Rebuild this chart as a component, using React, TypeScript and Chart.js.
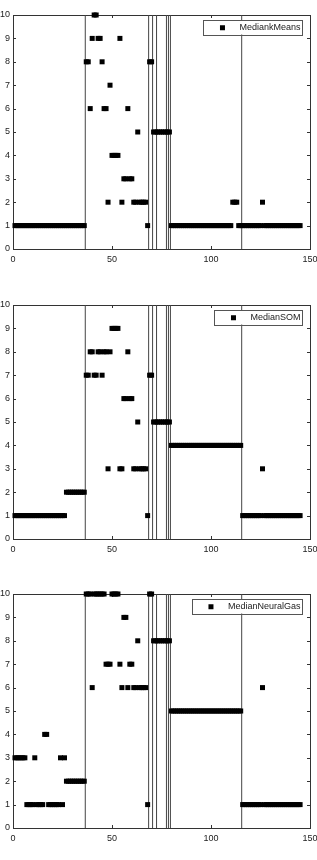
import React, { useEffect, useRef } from 'react';
import { Chart, registerables } from 'chart.js';

Chart.register(...registerables);

// Cluster label of each sample (sample index = position + 1)
const kMeansLabels = [
  1, 1, 1, 1, 1, 1, 1, 1, 1, 1,
  1, 1, 1, 1, 1, 1, 1, 1, 1, 1,
  1, 1, 1, 1, 1, 1, 1, 1, 1, 1,
  1, 1, 1, 1, 1, 1, 8, 8, 6, 9,
  10, 10, 9, 9, 8, 6, 6, 2, 7, 4,
  4, 4, 4, 9, 2, 3, 3, 6, 3, 3,
  2, 2, 5, 2, 2, 2, 2, 1, 8, 8,
  5, 5, 5, 5, 5, 5, 5, 5, 5, 1,
  1, 1, 1, 1, 1, 1, 1, 1, 1, 1,
  1, 1, 1, 1, 1, 1, 1, 1, 1, 1,
  1, 1, 1, 1, 1, 1, 1, 1, 1, 1,
  2, 2, 2, 1, 1, 1, 1, 1, 1, 1,
  1, 1, 1, 1, 1, 2, 1, 1, 1, 1,
  1, 1, 1, 1, 1, 1, 1, 1, 1, 1,
  1, 1, 1, 1, 1,
];

const somLabels = [
  1, 1, 1, 1, 1, 1, 1, 1, 1, 1,
  1, 1, 1, 1, 1, 1, 1, 1, 1, 1,
  1, 1, 1, 1, 1, 1, 2, 2, 2, 2,
  2, 2, 2, 2, 2, 2, 7, 7, 8, 8,
  7, 7, 8, 8, 7, 8, 8, 3, 8, 9,
  9, 9, 9, 3, 3, 6, 6, 8, 6, 6,
  3, 3, 5, 3, 3, 3, 3, 1, 7, 7,
  5, 5, 5, 5, 5, 5, 5, 5, 5, 4,
  4, 4, 4, 4, 4, 4, 4, 4, 4, 4,
  4, 4, 4, 4, 4, 4, 4, 4, 4, 4,
  4, 4, 4, 4, 4, 4, 4, 4, 4, 4,
  4, 4, 4, 4, 4, 1, 1, 1, 1, 1,
  1, 1, 1, 1, 1, 3, 1, 1, 1, 1,
  1, 1, 1, 1, 1, 1, 1, 1, 1, 1,
  1, 1, 1, 1, 1,
];

const neuralGasLabels = [
  3, 3, 3, 3, 3, 3, 1, 1, 1, 1,
  3, 1, 1, 1, 1, 4, 4, 1, 1, 1,
  1, 1, 1, 3, 1, 3, 2, 2, 2, 2,
  2, 2, 2, 2, 2, 2, 10, 10, 10, 6,
  10, 10, 10, 10, 10, 10, 7, 7, 7, 10,
  10, 10, 10, 7, 6, 9, 9, 6, 7, 7,
  6, 6, 8, 6, 6, 6, 6, 1, 10, 10,
  8, 8, 8, 8, 8, 8, 8, 8, 8, 5,
  5, 5, 5, 5, 5, 5, 5, 5, 5, 5,
  5, 5, 5, 5, 5, 5, 5, 5, 5, 5,
  5, 5, 5, 5, 5, 5, 5, 5, 5, 5,
  5, 5, 5, 5, 5, 1, 1, 1, 1, 1,
  1, 1, 1, 1, 1, 6, 1, 1, 1, 1,
  1, 1, 1, 1, 1, 1, 1, 1, 1, 1,
  1, 1, 1, 1, 1,
];

const seriesNames = ['MediankMeans', 'MedianSOM', 'MedianNeuralGas'];
const seriesValues = [kMeansLabels, somLabels, neuralGasLabels];

// class boundaries (vertical lines)
const boundaries = [36.5, 68.5, 70.5, 72.5, 77.5, 78.5, 79.5, 115.5];

const xTicks = [0, 50, 100, 150];
const yTicks = [0, 1, 2, 3, 4, 5, 6, 7, 8, 9, 10];

const FONT_FAMILY = '"Liberation Sans", Arial, Helvetica, sans-serif';
const TEXT_COLOR = '#222';
const FRAME_COLOR = '#333';

const framePlugin = {
  id: 'frameAndTicks',
  beforeDatasetsDraw(chart: any) {
    const { ctx, chartArea: a, scales } = chart;
    const xs = scales.x;
    const ys = scales.y;
    ctx.save();
    ctx.strokeStyle = FRAME_COLOR;
    ctx.lineWidth = 1;
    ctx.strokeRect(a.left + 0.5, a.top + 0.5, a.right - a.left, a.bottom - a.top);
    ctx.beginPath();
    const tl = 3;
    xTicks.forEach((t) => {
      const px = Math.round(xs.getPixelForValue(t)) + 0.5;
      ctx.moveTo(px, a.bottom);
      ctx.lineTo(px, a.bottom - tl);
      ctx.moveTo(px, a.top);
      ctx.lineTo(px, a.top + tl);
    });
    yTicks.forEach((t) => {
      const py = Math.round(ys.getPixelForValue(t)) + 0.5;
      ctx.moveTo(a.left, py);
      ctx.lineTo(a.left + tl, py);
      ctx.moveTo(a.right, py);
      ctx.lineTo(a.right - tl, py);
    });
    ctx.stroke();
    ctx.restore();
  },
  afterDraw(chart: any) {
    const { ctx, chartArea: a } = chart;
    const label = chart.data.datasets[0].label as string;
    ctx.save();
    ctx.font = `9px ${FONT_FAMILY}`;
    const tw = ctx.measureText(label).width;
    const boxRight = a.right - 8;
    const textLeft = boxRight - 1.5 - tw;
    const boxLeft = textLeft - 36;
    const boxTop = a.top + 5;
    const boxH = 14.5;
    ctx.fillStyle = '#fff';
    ctx.fillRect(boxLeft, boxTop, boxRight - boxLeft, boxH);
    ctx.strokeStyle = '#555';
    ctx.lineWidth = 1;
    ctx.strokeRect(Math.round(boxLeft) + 0.5, Math.round(boxTop) + 0.5, Math.round(boxRight - boxLeft), Math.round(boxH));
    const cy = boxTop + boxH / 2 + 0.5;
    const mx = textLeft - 17;
    ctx.fillStyle = '#000';
    ctx.fillRect(mx - 2.5, cy - 2.5, 5, 5);
    ctx.fillStyle = TEXT_COLOR;
    ctx.textBaseline = 'middle';
    ctx.textAlign = 'left';
    ctx.fillText(label, textLeft, cy);
    ctx.restore();
  },
};

function Panel({ name, values, top }: { name: string; values: number[]; top: number }) {
  const ref = useRef<HTMLCanvasElement>(null);
  useEffect(() => {
    if (!ref.current) return;
    const points = values.map((v, i) => ({ x: i + 1, y: v }));
    const lineSets = boundaries.map((b) => ({
      label: 'boundary',
      data: [
        { x: b, y: 0 },
        { x: b, y: 10 },
      ],
      showLine: true,
      borderColor: '#444',
      borderWidth: 1,
      pointRadius: 0,
      fill: false,
    }));
    const chart = new Chart(ref.current, {
      type: 'scatter',
      data: {
        datasets: [
          {
            label: name,
            data: points,
            pointStyle: 'rect',
            pointRadius: 3.54,
            backgroundColor: '#000',
            borderWidth: 0,
            borderColor: '#000',
            clip: false,
          } as any,
          ...(lineSets as any[]),
        ],
      },
      options: {
        animation: false,
        responsive: false,
        events: [],
        layout: { padding: { top: 15, right: 7, left: 0, bottom: 0 } },
        scales: {
          x: {
            type: 'linear',
            min: 0,
            max: 150,
            grid: { display: false, drawTicks: false },
            border: { display: false },
            ticks: {
              font: { family: FONT_FAMILY, size: 9 },
              color: TEXT_COLOR,
              padding: 5,
              maxRotation: 0,
              autoSkip: false,
            },
            afterBuildTicks: (s: any) => {
              s.ticks = xTicks.map((v) => ({ value: v }));
            },
            afterFit: (s: any) => {
              s.height = 41;
              s.paddingLeft = 0;
              s.paddingRight = 0;
            },
          },
          y: {
            type: 'linear',
            min: 0,
            max: 10,
            grid: { display: false, drawTicks: false },
            border: { display: false },
            ticks: {
              font: { family: FONT_FAMILY, size: 9 },
              color: TEXT_COLOR,
              padding: 3,
              autoSkip: false,
            },
            afterBuildTicks: (s: any) => {
              s.ticks = yTicks.map((v) => ({ value: v }));
            },
            afterFit: (s: any) => {
              s.width = 13;
              s.paddingTop = 0;
              s.paddingBottom = 0;
            },
          },
        },
        plugins: {
          legend: { display: false },
          tooltip: { enabled: false },
        },
      } as any,
      plugins: [framePlugin],
    });
    return () => chart.destroy();
  }, [name, values]);
  return (
    <canvas
      ref={ref}
      width={317}
      height={290}
      style={{ position: 'absolute', left: 0, top, width: 317, height: 290, display: 'block' }}
    />
  );
}

export default function App() {
  const tops = [0, 290, 579];
  return (
    <div style={{ position: 'absolute', left: 0, top: 0, width: 317, height: 860, background: '#fff', overflow: 'hidden' }}>
      {seriesNames.map((n, i) => (
        <Panel key={n} name={n} values={seriesValues[i]} top={tops[i]} />
      ))}
    </div>
  );
}
